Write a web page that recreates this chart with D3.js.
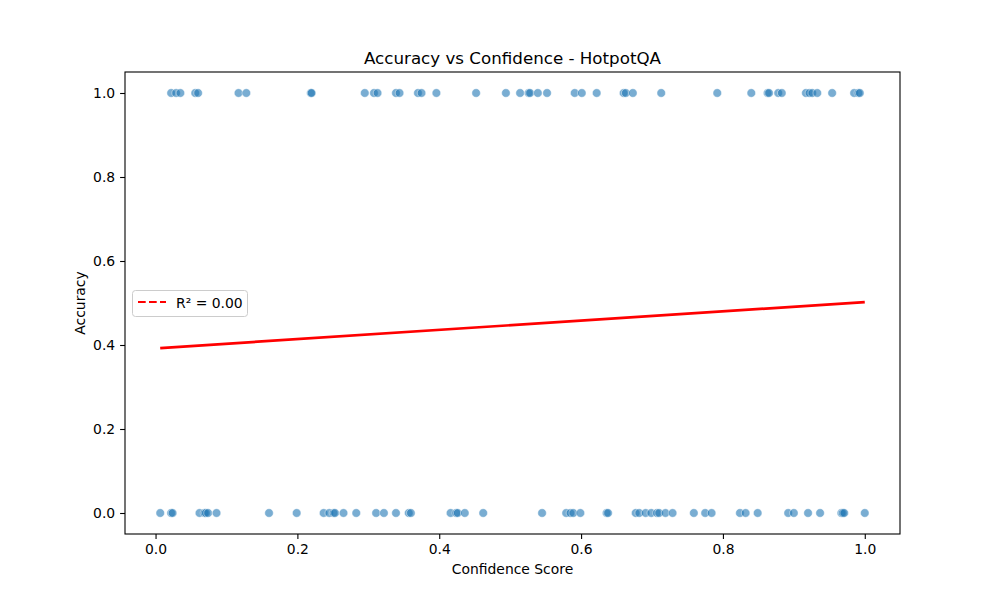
<!DOCTYPE html>
<html>
<head>
<meta charset="utf-8">
<script src="https://cdn.jsdelivr.net/npm/d3@7"></script>
<style>
body{margin:0;background:#fff;}
text{font-family:"DejaVu Sans",sans-serif;}
</style>
</head>
<body>
<svg id="chart" width="1000" height="600"></svg>
<script>
// Confidence scores of correct answers (accuracy = 1)
const correctConf = [0.022,0.029,0.035,0.056,0.060,0.117,0.128,0.219,0.220,0.295,0.308,0.313,0.339,0.344,0.370,0.375,0.396,0.452,0.494,0.514,0.526,0.528,0.539,0.552,0.591,0.601,0.622,0.660,0.663,0.673,0.713,0.792,0.840,0.863,0.865,0.878,0.883,0.917,0.922,0.926,0.933,0.954,0.985,0.991,0.993];
// Confidence scores of wrong answers (accuracy = 0)
const wrongConf = [0.0066,0.022,0.024,0.062,0.069,0.071,0.074,0.086,0.160,0.199,0.237,0.245,0.251,0.253,0.265,0.283,0.311,0.322,0.339,0.357,0.360,0.416,0.424,0.426,0.436,0.462,0.545,0.579,0.585,0.589,0.599,0.636,0.638,0.677,0.682,0.691,0.699,0.707,0.710,0.719,0.729,0.759,0.775,0.784,0.824,0.832,0.849,0.892,0.900,0.920,0.937,0.967,0.969,0.971,1.000];
// Fitted regression line
const fitIntercept = [0.392];
const fitSlope = [0.110];
const legendLabel = ["R² = 0.00"];
const xTicks = [0.0,0.2,0.4,0.6,0.8,1.0];
const yTicks = [0.0,0.2,0.4,0.6,0.8,1.0];

const points = correctConf.map(c=>({x:c,y:1})).concat(wrongConf.map(c=>({x:c,y:0})));

const svg = d3.select("#chart");
const L=125,R=900,T=72,B=534;
const allX = points.map(p=>p.x);
const xmin=d3.min(allX), xmax=d3.max(allX), xr=xmax-xmin;
const x = d3.scaleLinear().domain([xmin-0.05*xr, xmax+0.05*xr]).range([L,R]);
const y = d3.scaleLinear().domain([-0.05,1.05]).range([B,T]);

// points
svg.append("g").selectAll("circle").data(points).enter().append("circle")
  .attr("cx",d=>x(d.x)).attr("cy",d=>y(d.y)).attr("r",4.3)
  .attr("fill","#1f77b4").attr("fill-opacity",0.6)
  .attr("stroke","#fff").attr("stroke-opacity",0.6).attr("stroke-width",0.75);

// regression line
const fx=[xmin,xmax];
svg.append("path")
  .attr("d",d3.line().x(d=>x(d)).y(d=>y(fitIntercept[0]+fitSlope[0]*d))(fx))
  .attr("stroke","red").attr("stroke-width",2.7).attr("fill","none");

// axes
const xAxis = d3.axisBottom(x).tickValues(xTicks).tickFormat(d3.format(".1f")).tickSize(4.9).tickPadding(4.9);
const yAxis = d3.axisLeft(y).tickValues(yTicks).tickFormat(d3.format(".1f")).tickSize(4.9).tickPadding(4.9);
const gx = svg.append("g").attr("transform",`translate(0,${B})`).call(xAxis);
const gy = svg.append("g").attr("transform",`translate(${L},0)`).call(yAxis);
[gx,gy].forEach(g=>{
  g.select(".domain").remove();
  g.selectAll(".tick line").attr("stroke","#000").attr("stroke-width",1.1);
  g.selectAll(".tick text").attr("fill","#000").style("font-size","13.9px").style("font-family","DejaVu Sans");
});
svg.append("rect").attr("x",L).attr("y",T).attr("width",R-L).attr("height",B-T)
  .attr("fill","none").attr("stroke","#000").attr("stroke-width",1.1);

// labels
svg.append("text").attr("x",(L+R)/2).attr("y",64).attr("text-anchor","middle")
  .style("font-size","16.7px").text("Accuracy vs Confidence - HotpotQA");
svg.append("text").attr("x",(L+R)/2).attr("y",574).attr("text-anchor","middle")
  .style("font-size","13.9px").text("Confidence Score");
svg.append("text").attr("transform",`translate(85,${(T+B)/2}) rotate(-90)`).attr("text-anchor","middle")
  .style("font-size","13.9px").text("Accuracy");

// legend
const lg = svg.append("g");
lg.append("rect").attr("x",132.5).attr("y",290.5).attr("width",115).attr("height",26).attr("rx",3)
  .attr("fill","#fff").attr("fill-opacity",0.8).attr("stroke","#ccc").attr("stroke-width",1);
lg.append("line").attr("x1",138).attr("x2",166).attr("y1",302).attr("y2",302)
  .attr("stroke","red").attr("stroke-width",2.1).attr("stroke-dasharray","7.7,3.3");
lg.append("text").attr("x",176).attr("y",307.5).style("font-size","13.9px").text(legendLabel[0]);
</script>
</body>
</html>
